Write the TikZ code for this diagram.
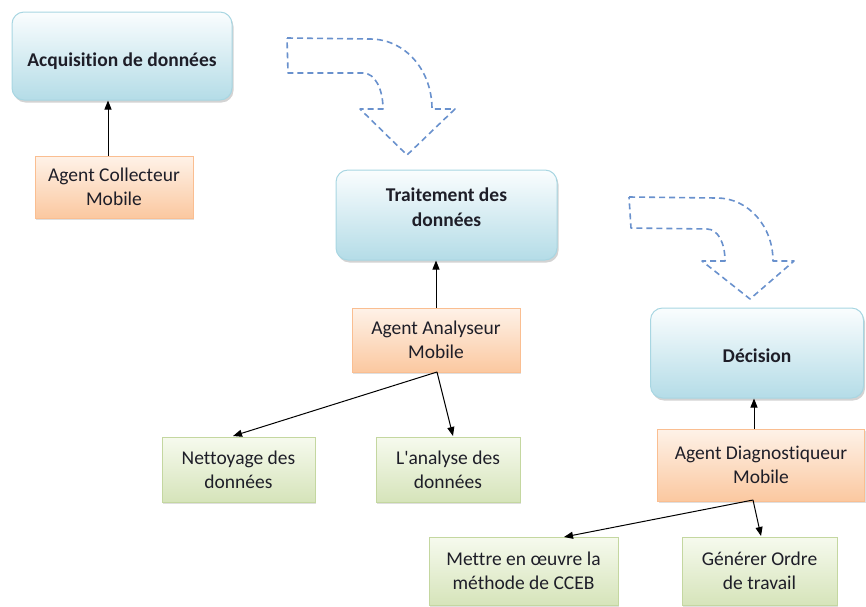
\documentclass[tikz,border=0pt]{standalone}
\usepackage{fontspec}
\setmainfont{Carlito}[Ligatures={TeXOff,NoCommon}]
\usetikzlibrary{arrows.meta,shadows}
\definecolor{stageborder}{RGB}{168,214,226}
\definecolor{stagetop}{RGB}{250,253,254}
\definecolor{stagebottom}{RGB}{180,220,231}
\definecolor{agentborder}{RGB}{250,190,145}
\definecolor{agenttop}{RGB}{254,242,232}
\definecolor{agentbottom}{RGB}{251,200,160}
\definecolor{taskborder}{RGB}{196,215,160}
\definecolor{tasktop}{RGB}{246,250,238}
\definecolor{taskbottom}{RGB}{214,228,186}
\definecolor{flowblue}{RGB}{105,145,205}
\definecolor{inktext}{RGB}{30,30,40}
\tikzset{
  stagebox/.style={draw=stageborder, line width=1pt, rounded corners=12pt,
    top color=stagetop, bottom color=stagebottom, align=center,
    font=\fontsize{19.5}{25}\selectfont\bfseries, text=inktext,
    drop shadow={shadow xshift=1.5pt, shadow yshift=-2.5pt, opacity=0.35, fill=gray}},
  agentbox/.style={draw=agentborder, line width=1pt,
    top color=agenttop, bottom color=agentbottom, align=center,
    font=\fontsize{19.5}{24}\selectfont, text=inktext,
    drop shadow={shadow xshift=1pt, shadow yshift=-1.5pt, opacity=0.25, fill=gray}},
  taskbox/.style={draw=taskborder, line width=1pt,
    top color=tasktop, bottom color=taskbottom, align=center,
    font=\fontsize{19.5}{24}\selectfont, text=inktext,
    drop shadow={shadow xshift=1pt, shadow yshift=-1.5pt, opacity=0.25, fill=gray}},
  link/.style={draw=black, line width=1pt, -{Triangle[length=9pt,width=7pt]}},
  flowarrow/.style={draw=flowblue, line width=1.6pt, dash pattern=on 6pt off 4pt, line join=round},
}
\begin{document}
\begin{tikzpicture}[x=1pt,y=-1pt]
\useasboundingbox (0,0) rectangle (866,606);

% stages (labels placed with zero-size boxes so they sit off-centre)
\node[stagebox, minimum width=220pt, minimum height=88pt] (acq) at (122,56)
  {\raisebox{-10.5pt}[0pt][0pt]{Acquisition de données}};
\node[stagebox, minimum width=221pt, minimum height=90pt] (trait) at (446.5,215)
  {\raisebox{1pt}[0pt][0pt]{\begin{tabular}{@{}c@{}}Traitement des\\données\end{tabular}}};
\node[stagebox, minimum width=213pt, minimum height=90pt] (dec) at (757,353)
  {\raisebox{-9.5pt}[0pt][0pt]{Décision}};

% mobile agents
\node[agentbox, minimum width=158pt, minimum height=62pt] (coll) at (114,187) {Agent Collecteur\\Mobile};
\node[agentbox, minimum width=168pt, minimum height=64pt] (anal) at (436,340) {Agent Analyseur\\Mobile};
\node[agentbox, minimum width=207pt, minimum height=72pt] (diag) at (761,465) {Agent Diagnostiqueur\\Mobile};

% tasks
\node[taskbox, minimum width=153pt, minimum height=65pt] (net) at (238.5,469.5) {Nettoyage des\\données};
\node[taskbox, minimum width=144pt, minimum height=65pt] (lana) at (448,469.5) {L'analyse des\\données};
\node[taskbox, minimum width=189pt, minimum height=68pt] (mettre) at (523.5,571) {Mettre en œuvre la\\méthode de CCEB};
\node[taskbox, minimum width=155pt, minimum height=68pt] (gen) at (759.5,571) {Générer Ordre\\de travail};

% connectors
\draw[link] (coll.north -| 108,0) -- (acq.south -| 108,0);
\draw[link] (anal.north) -- (trait.south -| anal.north);
\draw[link] (diag.north -| 754,0) -- (dec.south -| 754,0);
\coordinate (analout) at (437,372);
\draw[link] (analout) -- (233,436);
\draw[link] (analout) -- (453,436);
\coordinate (diagout) at (753,500);
\draw[link] (diagout) -- (564,537);
\draw[link] (diagout) -- (761,536);

% curved dashed flow arrows between stages
\draw[flowarrow] (287,38) -- (370,39) .. controls (405,39) and (432,70) .. (432,109)
  -- (455,109) -- (407,155) -- (360,109) -- (383,109)
  .. controls (383,89) and (375,73) .. (363,73) -- (288,73) -- cycle;
\draw[flowarrow] (629,197) -- (717,198) .. controls (748,198) and (773,226) .. (773,261)
  -- (794,261) -- (750,299) -- (702,261) -- (725,261)
  .. controls (725,243) and (718,229) .. (707,229) -- (631,228) -- cycle;
\end{tikzpicture}
\end{document}
